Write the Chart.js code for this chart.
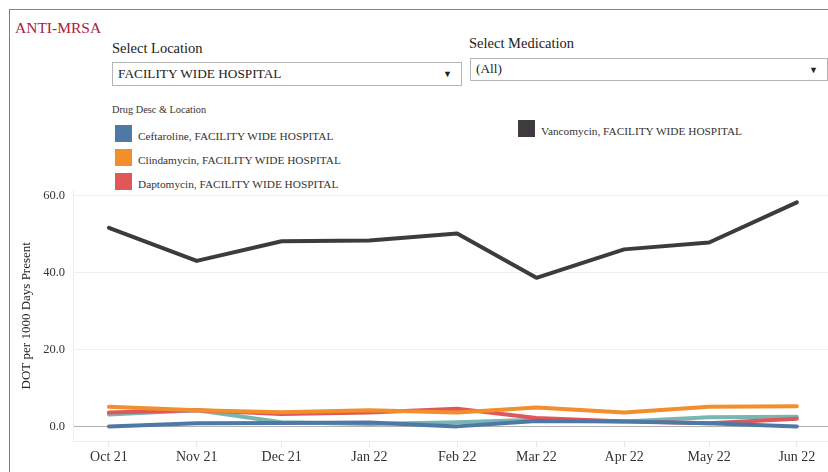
<!DOCTYPE html>
<html>
<head>
<meta charset="utf-8">
<script src="https://cdn.jsdelivr.net/npm/chart.js@4.4.1/dist/chart.umd.min.js"></script>
<style>
body { margin: 0; width: 828px; height: 472px; overflow: hidden; background: #fff; position: relative; font-family: "Liberation Serif", "Times New Roman", serif; color: #333; }
#frame { position: absolute; left: 9px; top: 9px; width: 830px; height: 470px; border-left: 1.5px solid #4f8c96; border-top: 1.5px solid #5e959e; }
#title { position: absolute; left: 15px; top: 19px; font-size: 15.5px; color: #b0183a; }
.lbl { position: absolute; font-size: 14.5px; color: #222; }
.box { position: absolute; border: 1px solid #b5b5b5; background: #fff; box-sizing: border-box; font-size: 13.3px; color: #222; }
.box span { position: absolute; left: 5px; }
.box i { position: absolute; right: 9px; font-style: normal; font-size: 9px; }
#legTitle { position: absolute; left: 112px; top: 104px; font-size: 10.3px; color: #333; }
.leg { position: absolute; font-size: 11.3px; color: #333; white-space: nowrap; }
.leg b { position: absolute; left: 0; top: 0; width: 17px; height: 17px; }
.leg span { position: absolute; left: 23px; top: 5px; }
#wrap { position: absolute; left: 10px; top: 175px; }
</style>
</head>
<body>
<div id="frame"></div>
<div id="title">ANTI-MRSA</div>
<div class="lbl" style="left:112px;top:40px;">Select Location</div>
<div class="box" style="left:112px;top:62px;width:350px;height:24px;"><span style="top:3px;">FACILITY WIDE HOSPITAL</span><i style="top:6px;">&#9660;</i></div>
<div class="lbl" style="left:469px;top:35px;">Select Medication</div>
<div class="box" style="left:470px;top:58px;width:358px;height:23px;"><span style="top:2px;">(All)</span><i style="top:6px;">&#9660;</i></div>
<div id="legTitle">Drug Desc &amp; Location</div>
<div id="legend"></div>
<div id="wrap"><canvas id="myChart" width="818" height="297"></canvas></div>

<script>
// months shown on the axis
const months = ['2021-10-01', '2021-11-01', '2021-12-01', '2022-01-01', '2022-02-01',
    '2022-03-01', '2022-04-01', '2022-05-01', '2022-06-01'];
const monthLabels = ['Oct 21', 'Nov 21', 'Dec 21', 'Jan 22', 'Feb 22', 'Mar 22', 'Apr 22', 'May 22', 'Jun 22'];

// DOT per 1000 days present
const ceftaroline = [0.0, 0.8, 0.9, 1.0, 0.0, 1.4, 1.3, 0.8, 0.0];
const clindamycin = [5.1, 4.2, 3.7, 4.2, 3.6, 4.9, 3.6, 5.1, 5.2];
const daptomycin = [3.6, 4.2, 3.2, 3.6, 4.6, 2.2, 1.3, 0.8, 2.0];
const linezolid = [3.1, 4.2, 1.1, 0.6, 1.1, 1.7, 1.3, 2.4, 2.5];
const vancomycin = [51.6, 43.0, 48.1, 48.3, 50.1, 38.6, 46.0, 47.8, 58.2];

const yTicks = [0, 20, 40, 60];

const series = [
    { name: 'Ceftaroline, FACILITY WIDE HOSPITAL', color: '#4e79a7', values: ceftaroline },
    { name: 'Clindamycin, FACILITY WIDE HOSPITAL', color: '#f28e2b', values: clindamycin },
    { name: 'Daptomycin, FACILITY WIDE HOSPITAL', color: '#e15759', values: daptomycin },
    { name: 'Linezolid, FACILITY WIDE HOSPITAL', color: '#76b7b2', values: linezolid },
    { name: 'Vancomycin, FACILITY WIDE HOSPITAL', color: '#3f3b3d', values: vancomycin },
];

// legend (the teal one is scrolled out of view in the original)
var legendSpots = [
    [115, 125], [115, 149], [115, 173], null, [518, 120]
];
var legendDiv = document.getElementById('legend');
series.forEach(function (s, i) {
    if (!legendSpots[i]) return;
    var d = document.createElement('div');
    d.className = 'leg';
    d.style.left = legendSpots[i][0] + 'px';
    d.style.top = legendSpots[i][1] + 'px';
    d.innerHTML = '<b style="background:' + s.color + '"></b><span>' + s.name + '</span>';
    legendDiv.appendChild(d);
});

function dayOf(m) {
    return (Date.parse(m) - Date.parse(months[0])) / 86400000;
}

const datasets = series.map(function (s) {
    return {
        label: s.name,
        data: months.map(function (m, i) { return { x: dayOf(m), y: s.values[i] }; }),
        borderColor: s.color,
        backgroundColor: s.color,
        borderWidth: 4,
        borderCapStyle: 'round',
        borderJoinStyle: 'round',
        pointRadius: 0,
        tension: 0,
    };
});

const serif = 'Liberation Serif, Times New Roman, serif';

var ctx = document.getElementById('myChart').getContext('2d');
const myChart = new Chart(ctx, {
    type: 'line',
    data: { datasets: datasets },
    options: {
        responsive: false,
        animation: false,
        layout: { padding: { top: 10, right: 0, bottom: 0, left: 0 } },
        plugins: {
            legend: { display: false },
            tooltip: { enabled: false },
        },
        scales: {
            x: {
                type: 'linear',
                min: -12.7,
                max: 254,
                afterBuildTicks: function (scale) {
                    scale.ticks = months.map(function (m) { return { value: dayOf(m) }; });
                },
                afterFit: function (scale) { scale.height = 31; },
                ticks: {
                    autoSkip: false,
                    maxRotation: 0,
                    padding: 2,
                    color: '#333',
                    font: { family: serif, size: 14 },
                    callback: function (v, i) { return monthLabels[i]; },
                },
                grid: { drawOnChartArea: false, tickLength: 6, color: '#e8e8e8' },
                border: { color: '#ededed' },
            },
            y: {
                min: -3.8,
                max: 61.3,
                afterBuildTicks: function (scale) {
                    scale.ticks = yTicks.map(function (v) { return { value: v }; });
                },
                afterFit: function (scale) { scale.width = 63; },
                ticks: {
                    padding: 8,
                    color: '#333',
                    font: { family: serif, size: 12.5 },
                    callback: function (v) { return v.toFixed(1); },
                },
                grid: {
                    drawTicks: false,
                    color: function (c) { return c.tick && c.tick.value === 0 ? '#b0b0b0' : '#efefef'; },
                    borderDash: function (c) { return c.tick && c.tick.value === 0 ? [1, 2] : []; },
                    lineWidth: 1,
                },
                border: { color: '#ededed' },
                title: {
                    display: true,
                    text: 'DOT per 1000 Days Present',
                    color: '#222',
                    font: { family: serif, size: 13 },
                    padding: { top: 9, bottom: 0 },
                },
            },
        },
    },
});
</script>
</body>
</html>
